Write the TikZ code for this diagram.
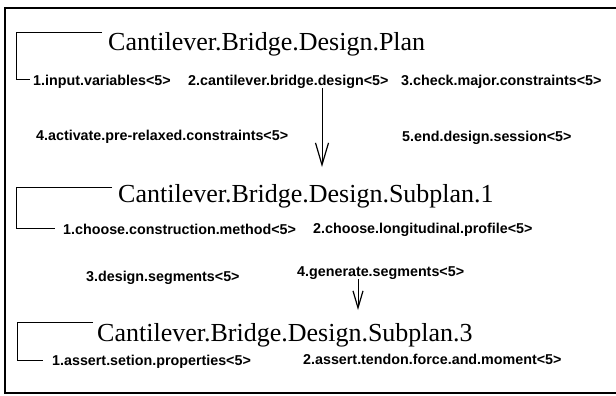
\documentclass[tikz,border=0pt]{standalone}
\usepackage{fontspec}
\setmainfont{Liberation Serif}
\newfontfamily\itemfamily{Liberation Sans}
\usetikzlibrary{arrows.meta}
\begin{document}
\begin{tikzpicture}[x=1pt,y=-1pt,
  titlebox/.style={anchor=base west,inner sep=0pt,font=\fontsize{26}{28}\selectfont},
  itembox/.style={anchor=base west,inner sep=0pt,font=\itemfamily\bfseries\fontsize{14.3}{16}\selectfont},
  bracket/.style={line width=1pt},
  framebox/.style={line width=2pt},
  bigarrow/.style={line width=1pt,-{Straight Barb[length=22pt,width=13pt,line width=1.2pt]}},
  smallarrow/.style={line width=1pt,-{Straight Barb[length=17pt,width=10pt,line width=1.2pt]}}]
\useasboundingbox (0,0) rectangle (616,396);
% frame
\draw[framebox] (616,8) -- (5,8) -- (5,393) -- (616,393);
% level 1
\node[titlebox] (t1) at (108,51) {Cantilever.Bridge.Design.Plan};
\node[itembox] (i11) at (33,85) {1.input.variables<5>};
\node[itembox] (i12) at (188,85) {2.cantilever.bridge.design<5>};
\node[itembox] (i13) at (401,85) {3.check.major.constraints<5>};
\node[itembox] (i14) at (36,140) {4.activate.pre-relaxed.constraints<5>};
\node[itembox] (i15) at (402,141) {5.end.design.session<5>};
\coordinate (b1t) at (102,33);
\coordinate (b1c) at (16,33);
\coordinate (b1d) at (16,80);
\coordinate (b1e) at (30,80);
\draw[bracket] (b1t) -- (b1c) -- (b1d) -- (b1e);
% level 2
\node[titlebox] (t2) at (118,202) {Cantilever.Bridge.Design.Subplan.1};
\node[itembox] (i21) at (63,234) {1.choose.construction.method<5>};
\node[itembox] (i22) at (313,233) {2.choose.longitudinal.profile<5>};
\node[itembox] (i23) at (86,281) {3.design.segments<5>};
\node[itembox] (i24) at (297,276) {4.generate.segments<5>};
\coordinate (b2t) at (112,187);
\coordinate (b2c) at (16,187);
\coordinate (b2d) at (16,228);
\coordinate (b2e) at (55,228);
\draw[bracket] (b2t) -- (b2c) -- (b2d) -- (b2e);
% level 3
\node[titlebox] (t3) at (97,341) {Cantilever.Bridge.Design.Subplan.3};
\node[itembox] (i31) at (52,365) {1.assert.setion.properties<5>};
\node[itembox] (i32) at (303,364) {2.assert.tendon.force.and.moment<5>};
\coordinate (b3t) at (93,322);
\coordinate (b3c) at (17,322);
\coordinate (b3d) at (17,360);
\coordinate (b3e) at (43,360);
\draw[bracket] (b3t) -- (b3c) -- (b3d) -- (b3e);
% arrows
\coordinate (a1e) at (322,167);
\draw[bigarrow] (i12.south -| a1e) -- (a1e);
\coordinate (a2e) at (358,310);
\draw[smallarrow] (i24.south -| a2e) -- (a2e);
\end{tikzpicture}
\end{document}
